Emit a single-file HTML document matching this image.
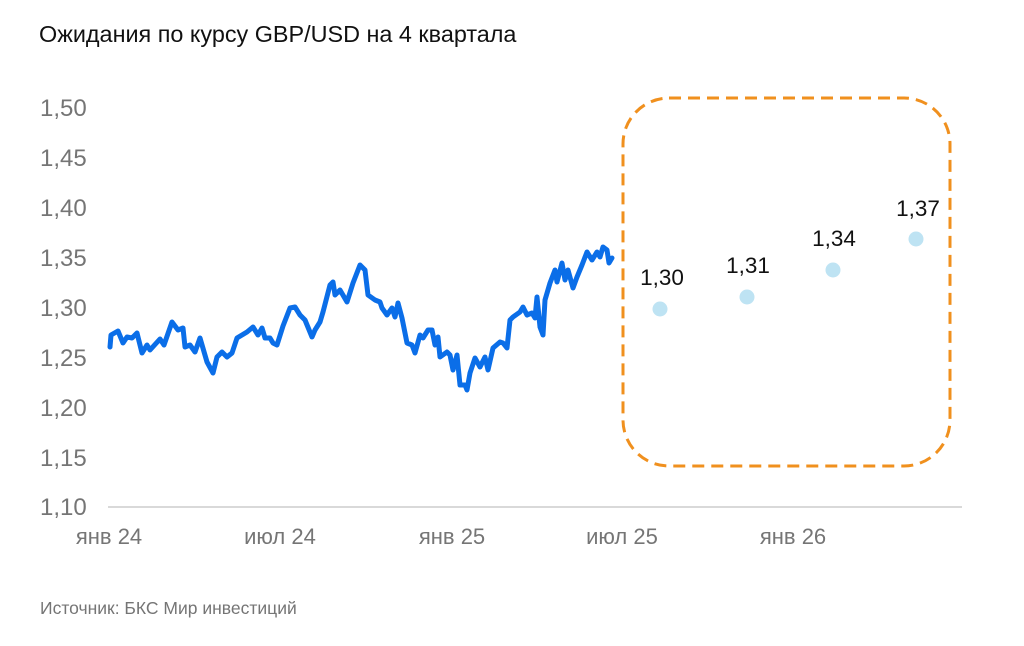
<!DOCTYPE html>
<html><head><meta charset="utf-8"><style>
body{margin:0;background:#fff;}
svg{display:block;font-family:"Liberation Sans","DejaVu Sans",sans-serif;}
</style></head><body>
<svg width="1024" height="646" viewBox="0 0 1024 646">
<text x="39" y="42" font-size="23.4" fill="#111">Ожидания по курсу GBP/USD на 4 квартала</text>
<g font-size="24" fill="#757575" text-anchor="start">
<text x="40" y="116">1,50</text>
<text x="40" y="166">1,45</text>
<text x="40" y="216">1,40</text>
<text x="40" y="266">1,35</text>
<text x="40" y="316">1,30</text>
<text x="40" y="366">1,25</text>
<text x="40" y="416">1,20</text>
<text x="40" y="466">1,15</text>
<text x="40" y="515">1,10</text>
</g>
<line x1="108" y1="507" x2="962" y2="507" stroke="#d9d9d9" stroke-width="2"/>
<g font-size="22" fill="#757575" text-anchor="middle">
<text x="109" y="544">янв 24</text>
<text x="280" y="544">июл 24</text>
<text x="452" y="544">янв 25</text>
<text x="622" y="544">июл 25</text>
<text x="793" y="544">янв 26</text>
</g>
<rect x="623" y="98" width="327" height="368" rx="46" ry="46" fill="none" stroke="#f0901e" stroke-width="3" stroke-dasharray="12 7"/>
<polyline fill="none" stroke="#0b6ee8" stroke-width="5" stroke-linejoin="round" stroke-linecap="round" points="110,347 111,335 118,331 123,343 127,337 132,338 137,333 142,353 147,345 150,350 160,339 164,345 172,322 178,330 183,328 185,347 190,345 195,352 200,338 207,362 213,373 217,357 222,352 227,357 232,353 237,338 247,332 253,327 258,335 262,328 265,338 270,338 273,343 277,345 283,326 290,308 295,307 300,315 305,320 312,337 315,330 320,322 323,312 330,285 333,282 335,295 340,290 347,302 353,283 360,265 362,267 365,270 368,295 375,300 380,302 382,308 387,315 392,308 395,317 398,303 402,318 407,343 412,345 415,353 420,335 423,338 428,330 432,330 435,345 438,337 440,357 447,352 450,355 453,370 457,355 460,385 465,385 467,390 470,373 475,358 480,367 485,357 488,370 493,348 500,342 503,343 507,348 510,320 513,317 520,312 523,307 527,315 532,313 535,318 537,297 540,327 543,335 545,300 550,283 555,270 557,282 562,263 565,280 568,270 573,288 577,277 582,265 587,252 592,260 597,252 600,257 603,247 607,250 609,263 612,258"/>
<g fill="#bee3f3">
<circle cx="660" cy="309" r="7.5"/>
<circle cx="747" cy="297" r="7.5"/>
<circle cx="833" cy="270" r="7.5"/>
<circle cx="916" cy="239" r="7.5"/>
</g>
<g font-size="22.5" fill="#111" text-anchor="middle">
<text x="662" y="285">1,30</text>
<text x="748" y="273">1,31</text>
<text x="834" y="246">1,34</text>
<text x="918" y="216">1,37</text>
</g>
<text x="40" y="614" font-size="17.5" fill="#757575">Источник: БКС Мир инвестиций</text>
</svg>
</body></html>
